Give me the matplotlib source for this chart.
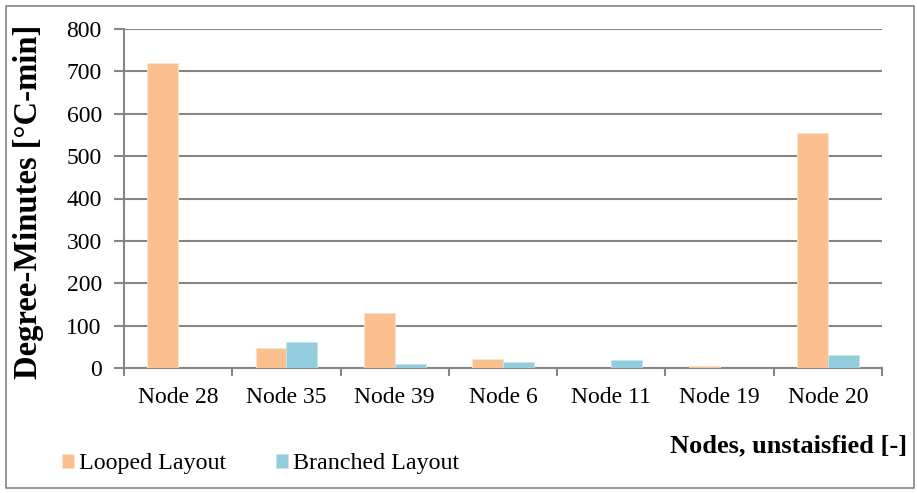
import matplotlib
matplotlib.use("Agg")
import matplotlib.pyplot as plt
import numpy as np
from matplotlib.patches import Rectangle

categories = ["Node 28", "Node 35", "Node 39", "Node 6", "Node 11", "Node 19", "Node 20"]
looped = [720, 47, 129, 22, 0, 5, 555]
branched = [0, 61, 9, 14, 18, 0, 31]
yticks = [0, 100, 200, 300, 400, 500, 600, 700, 800]

plt.rcParams['font.family'] = ['Liberation Serif', 'DejaVu Serif']

W, H = 917, 493
fig = plt.figure(figsize=(W/100, H/100), dpi=100)
ax = fig.add_axes([124/W, 1-368/H, (882-124)/W, (368-29)/H])

x = np.arange(len(categories))
bw = 0.285
c1 = "#FAC090"
c2 = "#93CDDD"
ax.bar(x - bw/2, looped, bw, color=c1, edgecolor="#FDE3CC", linewidth=0.6, zorder=3, label="Looped Layout")
ax.bar(x + bw/2, branched, bw, color=c2, edgecolor="#C5E5EE", linewidth=0.6, zorder=3, label="Branched Layout")

gc = "#868686"
ax.set_ylim(0, 800)
ax.set_xlim(-0.5, len(categories) - 0.5)
ax.set_yticks(yticks)
ax.set_yticklabels([str(v) for v in yticks], fontsize=17)
ax.yaxis.grid(True, color=gc, linewidth=1.5, zorder=0)
ax.set_axisbelow(True)
ax.set_xticks(x)
ax.set_xticklabels(categories, fontsize=17)
ax.set_xticks(np.arange(-0.5, len(categories)), minor=True)
ax.tick_params(axis='x', which='major', length=0, pad=14)
ax.tick_params(axis='x', which='minor', length=6, width=1.5, color=gc)
ax.tick_params(axis='y', length=7, width=1.5, color=gc, pad=9)
for s in ['top', 'right']:
    ax.spines[s].set_visible(False)
ax.spines['left'].set_color(gc)
ax.spines['left'].set_linewidth(1.5)
ax.spines['bottom'].set_color(gc)
ax.spines['bottom'].set_linewidth(1.5)

fig.text(29/W, 1-202/H, "Degree-Minutes [°C-min]", fontsize=23.5, fontweight='bold',
         rotation=90, ha='center', va='center')
fig.text(907/W, 1-446/H, "Nodes, unstaisfied [-]", fontsize=19, fontweight='bold', ha='right', va='center')

leg = fig.legend(loc='center left', bbox_to_anchor=(62/W, 1-464/H), ncol=2, frameon=False,
                 fontsize=17.3, handlelength=0.5, handleheight=0.5, handletextpad=0.2,
                 columnspacing=2.1, borderpad=0, borderaxespad=0)

fig.patches.append(Rectangle((5.5/W, 1-487.5/H), (914-5.5)/W, (487.5-5.5)/H, transform=fig.transFigure,
                             fill=False, edgecolor=gc, linewidth=1.2))

fig.savefig("out.png", dpi=100)
